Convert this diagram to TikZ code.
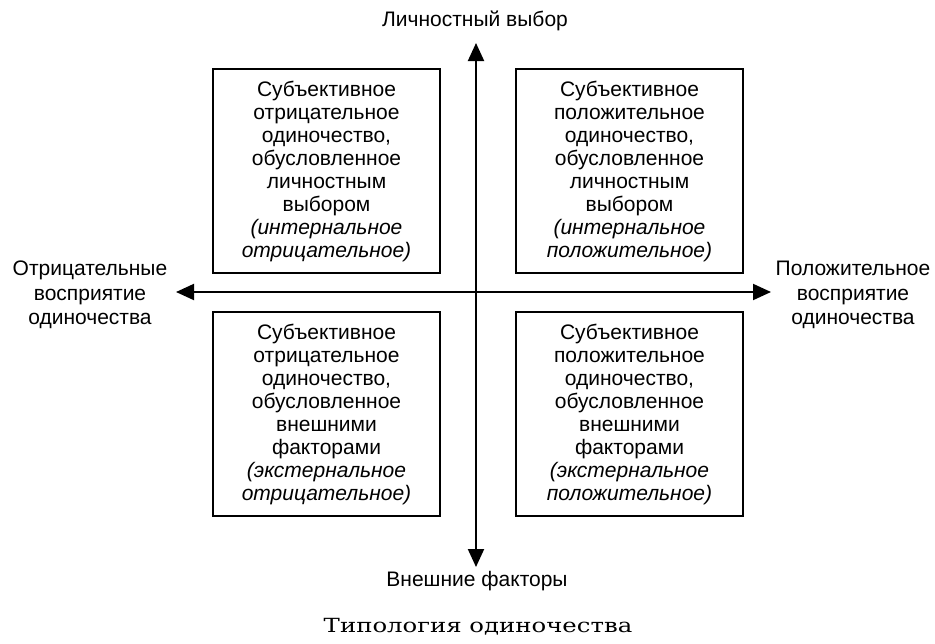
\documentclass[tikz,border=0pt]{standalone}
\usepackage{fontspec}
\setmainfont{Liberation Sans}
\newfontfamily\capfont[FakeStretch=1.25]{DejaVu Serif}
\usetikzlibrary{arrows.meta}
\tikzset{
  quad/.style={draw, line width=2pt, minimum width=227pt, minimum height=204pt,
    inner sep=0pt, align=center, anchor=north west,
    font=\fontsize{21}{23}\selectfont},
  axis/.style={line width=2pt,
    {Triangle[length=18pt,width=16pt]}-{Triangle[length=18pt,width=16pt]}},
  lbl/.style={align=center, inner sep=0pt, font=\fontsize{21}{24.5}\selectfont},
}
\begin{document}
\begin{tikzpicture}[x=1pt,y=-1pt]
\useasboundingbox (0,0) rectangle (935,643);
\fill[white] (0,0) rectangle (935,643);

\coordinate (top) at (476,43);
\coordinate (bottom) at (476,567);
\coordinate (left) at (176,292);
\coordinate (right) at (771,292);

\draw[axis] (bottom) -- (top);
\draw[axis] (left) -- (right);

\node[quad] (tl) at (212,68) {Субъективное\\отрицательное\\одиночество,\\обусловленное\\личностным\\выбором\\\textit{(интернальное}\\\textit{отрицательное)}};
\node[quad] (tr) at (515,68) {Субъективное\\положительное\\одиночество,\\обусловленное\\личностным\\выбором\\\textit{(интернальное}\\\textit{положительное)}};
\node[quad] (bl) at (212,311) {Субъективное\\отрицательное\\одиночество,\\обусловленное\\внешними\\факторами\\\textit{(экстернальное}\\\textit{отрицательное)}};
\node[quad] (br) at (515,311) {Субъективное\\положительное\\одиночество,\\обусловленное\\внешними\\факторами\\\textit{(экстернальное}\\\textit{положительное)}};

\node[lbl] (ltop) at (475,21) {Личностный выбор};
\node[lbl] (lbot) at (477,581) {Внешние факторы};
\node[lbl] (lleft) at (90,295) {Отрицательные\\восприятие\\одиночества};
\node[lbl] (lright) at (853,295) {Положительное\\восприятие\\одиночества};

\node[inner sep=0pt, font=\capfont\fontsize{19.5}{23}\selectfont] (cap) at (478,627) {Типология одиночества};
\end{tikzpicture}
\end{document}
